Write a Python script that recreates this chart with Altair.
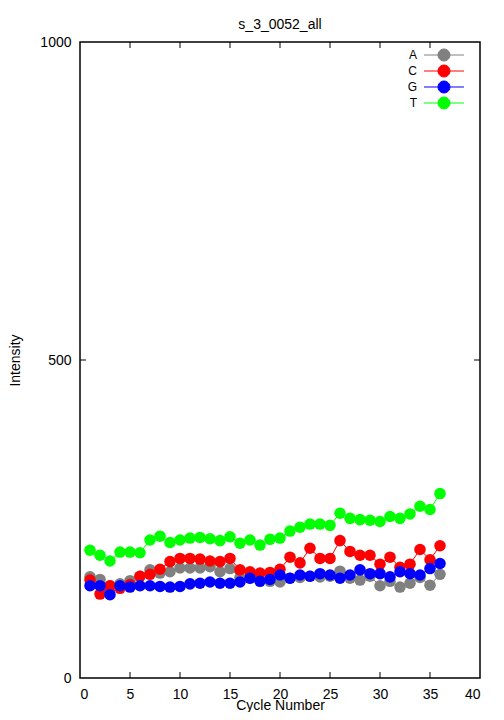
import math
import altair as alt
import pandas as pd

cycles = list(range(1, 37))
A_vals = [159, 155, 145, 148, 153, 160, 170, 165, 167, 173, 173, 173, 175, 167, 172, 158, 157, 154,
          152, 151, 157, 158, 160, 159, 160, 168, 157, 154, 160, 145, 152, 143, 149, 158, 146, 163]
C_vals = [154, 132, 145, 141, 147, 160, 163, 171, 183, 188, 188, 187, 184, 183, 188, 170, 167, 165,
          166, 171, 190, 181, 204, 188, 188, 216, 199, 193, 193, 179, 190, 174, 179, 202, 186, 208]
G_vals = [145, 145, 131, 145, 143, 145, 145, 144, 143, 144, 148, 149, 151, 149, 149, 151, 157, 152,
          155, 162, 157, 162, 160, 164, 162, 157, 162, 170, 164, 164, 159, 167, 164, 162, 172, 180]
T_vals = [201, 193, 184, 198, 198, 197, 217, 223, 213, 217, 220, 221, 219, 216, 222, 212, 217, 209,
          218, 220, 231, 237, 242, 242, 240, 259, 251, 249, 248, 246, 254, 251, 258, 270, 265, 290]

bases = ["A", "C", "G", "T"]
base_colors = ["#808080", "#ff0000", "#0000ff", "#00ff00"]
x_tick_values = [5, 10, 15, 20, 25, 30, 35]
y_tick_values = [500]
x_label_values = [0, 5, 10, 15, 20, 25, 30, 35, 40]
y_label_values = [0, 500, 1000]

rows = []
for b, vals in zip(bases, [A_vals, C_vals, G_vals, T_vals]):
    for c, v in zip(cycles, vals):
        rows.append({"cycle": c, "intensity": v, "base": b})
df = pd.DataFrame(rows)
xt = pd.DataFrame({"v": x_tick_values})
yt = pd.DataFrame({"v": y_tick_values})

W, H = 400, 636
FONT = "Liberation Sans"

xscale = alt.Scale(domain=[0, 40], nice=False, zero=False)
yscale = alt.Scale(domain=[0, 1000], nice=False)

x_axis = alt.Axis(title="Cycle Number", values=x_label_values, ticks=False, domain=False,
                  grid=False, labelPadding=9, titleY=20, titleBaseline="top", labelFontSize=14,
                  titleFontSize=14, titleFontWeight="normal", labelFont=FONT,
                  titleFont=FONT, labelColor="black", titleColor="black")
y_axis = alt.Axis(title="Intensity", values=y_label_values, format="d", ticks=False, domain=False,
                  grid=False, labelPadding=9, titleX=-58, titleY=H / 2, labelFontSize=14,
                  titleFontSize=14, titleFontWeight="normal", labelFont=FONT,
                  titleFont=FONT, labelColor="black", titleColor="black")

cscale = alt.Scale(domain=bases, range=base_colors)

# legend symbol: short line with a dot (polygonal circle), sitting right of the label
cx, r, half = 7.33, 1.33, 4.44
poly = " ".join(
    ("M" if i == 0 else "L") + f"{cx + r * math.cos(2 * math.pi * i / 24):.3f},{r * math.sin(2 * math.pi * i / 24):.3f}"
    for i in range(24)
) + " Z"
sym_path = f"M{cx - half:.2f},0 L{cx + half:.2f},0 " + poly

leg = alt.Legend(title=None, orient="none", legendX=325, legendY=7, symbolType=sym_path,
                 symbolSize=81, symbolStrokeWidth=1, symbolOpacity=1, labelAlign="right",
                 labelOffset=0, labelFontSize=12, labelFont=FONT, labelColor="black",
                 rowPadding=0, padding=0)

lines = alt.Chart(df).mark_line(strokeWidth=1).encode(
    x=alt.X("cycle:Q", scale=xscale, axis=x_axis),
    y=alt.Y("intensity:Q", scale=yscale, axis=y_axis),
    color=alt.Color("base:N", scale=cscale, legend=leg),
)

points = alt.Chart(df).mark_circle(opacity=1, size=133).encode(
    x=alt.X("cycle:Q", scale=xscale, axis=x_axis),
    y=alt.Y("intensity:Q", scale=yscale, axis=y_axis),
    color=alt.Color("base:N", scale=cscale, legend=leg),
)

tb = alt.Chart(xt).mark_rule(color="black", strokeWidth=1).encode(
    x=alt.X("v:Q", scale=xscale, axis=x_axis), y=alt.value(H), y2=alt.value(H - 6))
tt = alt.Chart(xt).mark_rule(color="black", strokeWidth=1).encode(
    x=alt.X("v:Q", scale=xscale, axis=x_axis), y=alt.value(0), y2=alt.value(6))
tl = alt.Chart(yt).mark_rule(color="black", strokeWidth=1).encode(
    y=alt.Y("v:Q", scale=yscale, axis=y_axis), x=alt.value(0), x2=alt.value(6))
tr = alt.Chart(yt).mark_rule(color="black", strokeWidth=1).encode(
    y=alt.Y("v:Q", scale=yscale, axis=y_axis), x=alt.value(W), x2=alt.value(W - 6))

chart = alt.layer(lines, points, tb, tt, tl, tr).properties(
    width=W, height=H,
    title=alt.TitleParams("s_3_0052_all", fontSize=14, fontWeight="normal", font=FONT,
                          anchor="middle", baseline="alphabetic", offset=14, dy=22,
                          frame="group", color="black"),
    autosize=alt.AutoSizeParams(type="none"),
    padding={"left": 72, "top": 34, "right": 16, "bottom": 34},
    background="white",
).configure_view(stroke="black", strokeWidth=1.5)

chart.save("out.html", embed_options={"renderer": "svg", "actions": False})
